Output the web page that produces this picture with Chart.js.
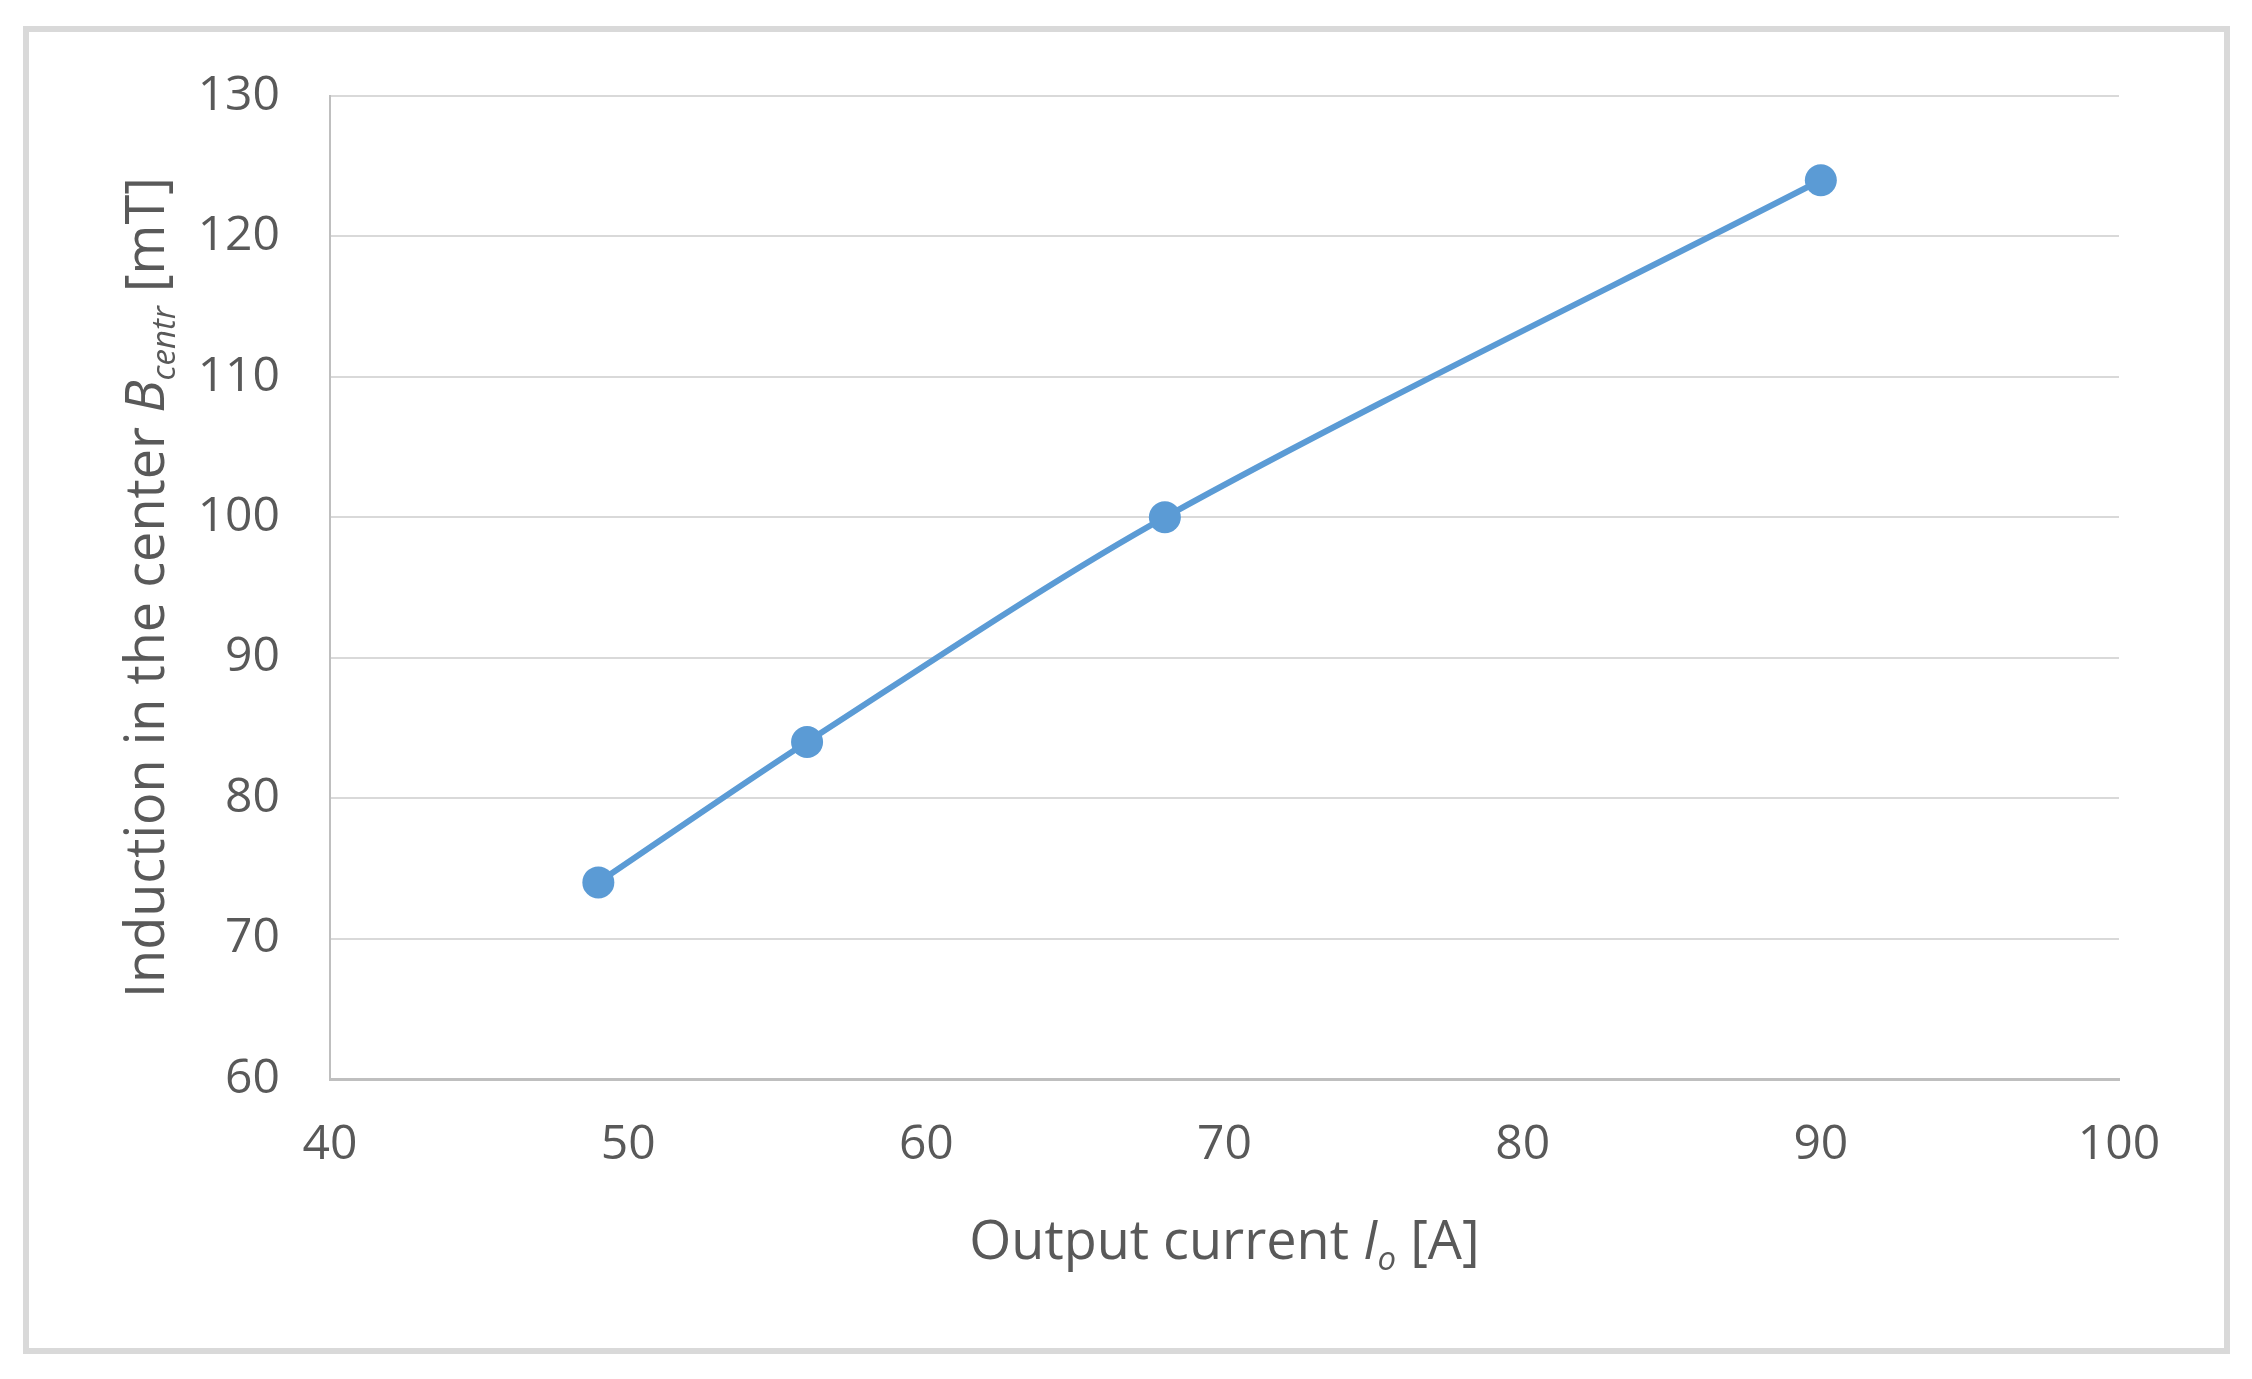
<!DOCTYPE html>
<html>
<head>
<meta charset="utf-8">
<script src="https://cdn.jsdelivr.net/npm/chart.js@4.4.1/dist/chart.umd.min.js"></script>
<style>
  html, body { margin: 0; padding: 0; background: #fff; }
  #wrap { width: 2252px; height: 1379px; position: relative; }
</style>
</head>
<body>
<div id="wrap"><canvas id="myChart"></canvas></div>
<script>
// values
const currents = [49, 56, 68, 90];
const induction = [74, 84, 100, 124];
const xTicks = [40, 50, 60, 70, 80, 90, 100];
const yTicks = [60, 70, 80, 90, 100, 110, 120, 130];

const xTitle = [
    { t: 'Output current ', style: '' },
    { t: 'I', style: 'italic' },
    { t: 'o', style: 'italic', sub: true },
    { t: ' [A]', style: '' }
];
const yTitle = [
    { t: 'Induction in the center ', style: '' },
    { t: 'B', style: 'italic' },
    { t: 'centr', style: 'italic', sub: true },
    { t: ' [mT]', style: '' }
];

const FONT = '"Open Sans", "Noto Sans", sans-serif';
const TEXT_COL = '#595959';
const BLUE = '#5b9bd5';

function fontFor(part, size) {
    const s = part.sub ? Math.round(size * 0.62) : size;
    return (part.style ? part.style + ' ' : '') + s + 'px ' + FONT;
}

function drawRich(c, parts, size) {
    // centred on (0,0), alphabetic baseline
    let total = 0;
    parts.forEach(p => { c.font = fontFor(p, size); total += c.measureText(p.t).width; });
    let x = -total / 2;
    parts.forEach(p => {
        c.font = fontFor(p, size);
        c.fillText(p.t, x, p.sub ? size * 0.2 : 0);
        x += c.measureText(p.t).width;
    });
}

const decor = {
    id: 'decor',
    beforeDraw(chart) {
        const c = chart.ctx;
        c.save();
        c.strokeStyle = '#d9d9d9';
        c.lineWidth = 6;
        c.strokeRect(26, 29, 2201, 1322);
        c.restore();
    },
    afterDraw(chart) {
        const c = chart.ctx;
        const a = chart.chartArea;
        c.save();
        c.fillStyle = TEXT_COL;
        c.textBaseline = 'alphabetic';
        c.textAlign = 'left';
        c.translate((a.left + a.right) / 2, 1259);
        drawRich(c, xTitle, 54);
        c.restore();

        c.save();
        c.fillStyle = TEXT_COL;
        c.textBaseline = 'alphabetic';
        c.textAlign = 'left';
        c.translate(164, (a.top + a.bottom) / 2);
        c.rotate(-Math.PI / 2);
        drawRich(c, yTitle, 54);
        c.restore();
    }
};

const ctx = document.getElementById('myChart');
const points = currents.map((x, i) => ({ x: x, y: induction[i] }));

const myChart = new Chart(ctx, {
    type: 'line',
    data: {
        datasets: [{
            label: 'Bcentr',
            data: points,
            borderColor: BLUE,
            backgroundColor: BLUE,
            borderWidth: 6,
            pointRadius: 16,
            pointBackgroundColor: BLUE,
            pointBorderColor: BLUE,
            pointBorderWidth: 0,
            tension: 0.3,
            fill: false
        }]
    },
    options: {
        responsive: true,
        maintainAspectRatio: false,
        animation: false,
        layout: { padding: { top: 96, right: 133, left: 0, bottom: 0 } },
        plugins: {
            legend: { display: false },
            tooltip: { enabled: false }
        },
        scales: {
            x: {
                type: 'linear',
                min: xTicks[0],
                max: xTicks[xTicks.length - 1],
                afterBuildTicks: s => { s.ticks = xTicks.map(v => ({ value: v })); },
                afterFit: s => { s.height = 300; },
                grid: { display: false, drawTicks: false },
                border: { display: true, color: '#bfbfbf', width: 3 },
                ticks: { color: TEXT_COL, font: { family: FONT, size: 48 }, padding: 38, maxRotation: 0 }
            },
            y: {
                type: 'linear',
                min: yTicks[0],
                max: yTicks[yTicks.length - 1],
                afterBuildTicks: s => { s.ticks = yTicks.map(v => ({ value: v })); },
                afterFit: s => { s.width = 330; },
                grid: { color: '#d9d9d9', lineWidth: 2, drawTicks: false },
                border: { display: true, color: '#bfbfbf', width: 2 },
                ticks: { color: TEXT_COL, font: { family: FONT, size: 48 }, padding: 50 }
            }
        }
    },
    plugins: [decor]
});
</script>
</body>
</html>
